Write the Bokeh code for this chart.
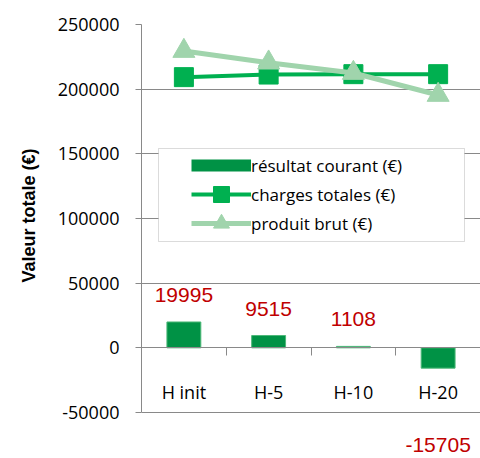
from bokeh.plotting import figure
from bokeh.models import (Range1d, LinearAxis, FixedTicker, BasicTickFormatter, Legend,
                          LegendItem, LabelSet, ColumnDataSource, BoxAnnotation, Grid, Title)
from bokeh.embed import file_html
from bokeh.resources import INLINE
from bokeh.core.properties import value

categories = ["H init", "H-5", "H-10", "H-20"]
resultat_courant = [19995, 9515, 1108, -15705]
charges_totales = [209300, 211300, 211600, 211600]
produit_brut = [229500, 220500, 212500, 195500]
y_ticks = [-50000, 0, 50000, 100000, 150000, 200000, 250000]
series_names = ["résultat courant (€)", "charges totales (€)", "produit brut (€)"]
y_title = "Valeur totale (€)"

BAR = "#009245"
CHG = "#00B050"
PRD = "#A0D4AC"
GRAY = "#898989"

W, H = 480, 458
TOP, AXIS_BOTTOM = 24, 412          # pixel rows of the 250000 and -50000 gridlines
px_per_unit = (AXIS_BOTTOM - TOP) / (y_ticks[-1] - y_ticks[0])
y_start = y_ticks[0] - (H - AXIS_BOTTOM) / px_per_unit   # room below for the data labels

xs = [i + 0.5 for i in range(len(categories))]
bounds = list(range(1, len(categories)))

p = figure(width=W, height=H, x_range=Range1d(0, len(categories)),
           y_range=Range1d(y_start, y_ticks[-1]),
           output_backend="svg", toolbar_location=None, x_axis_type=None, y_axis_type=None,
           min_border_left=141, min_border_right=0, min_border_top=TOP, min_border_bottom=0)
p.outline_line_color = None
p.background_fill_color = "white"

ygrid = Grid(dimension=1, ticker=FixedTicker(ticks=y_ticks), grid_line_color=GRAY, grid_line_width=1)
p.add_layout(ygrid)

yaxis = LinearAxis(ticker=FixedTicker(ticks=y_ticks), formatter=BasicTickFormatter(use_scientific=False),
                   major_label_overrides={t: str(t) for t in y_ticks},
                   bounds=(y_ticks[0], y_ticks[-1]),
                   major_label_text_font="Open Sans", major_label_text_font_size="18px",
                   major_label_text_color="black", major_label_standoff=16,
                   major_tick_out=6, major_tick_in=0, minor_tick_line_color=None,
                   axis_line_color=GRAY, major_tick_line_color=GRAY)
p.add_layout(yaxis, "left")

ytitle = Title(text=y_title, text_font="Liberation Sans", text_font_style="bold",
               text_font_size="18px", text_color="black", align="left", offset=176, standoff=31)
p.add_layout(ytitle, "left")

xaxis = LinearAxis(ticker=FixedTicker(ticks=xs, minor_ticks=bounds),
                   major_label_overrides={x: c for x, c in zip(xs, categories)},
                   fixed_location=0, major_tick_line_color=None,
                   minor_tick_line_color=GRAY, minor_tick_out=8, minor_tick_in=0,
                   axis_line_color=GRAY, major_label_standoff=24,
                   major_label_text_font="Open Sans", major_label_text_font_size="18px",
                   major_label_text_color="black")
p.add_layout(xaxis, "below")

bars = p.vbar(x=xs, top=resultat_courant, bottom=0, width=0.4, fill_color=BAR,
              line_color="#4DB878", line_width=1)
bar_key = p.line(xs, resultat_courant, line_color=BAR, line_width=12, visible=False)

lc = p.line(xs, charges_totales, line_color=CHG, line_width=4)
sc = p.scatter(xs, charges_totales, marker="square", size=19, color=CHG)
lp = p.line(xs, produit_brut, line_color=PRD, line_width=5)
sp = p.scatter(xs, produit_brut, marker="triangle", size=22, color=PRD)

src = ColumnDataSource(dict(x=xs, y=resultat_courant, text=[str(v) for v in resultat_courant],
                            dy=[27 if v >= 0 else -77 for v in resultat_courant]))
labels = LabelSet(x="x", y="y", text="text", y_offset="dy", source=src,
                  text_align="center", text_baseline="middle", text_color="#C00000",
                  text_font=value("Liberation Sans"), text_font_size="21px")
p.add_layout(labels)

# legend frame (frame-relative screen units, y measured up from frame bottom)
frame_box = BoxAnnotation(left=17, right=323, bottom=H - 241, top=H - 148,
                          left_units="screen", right_units="screen",
                          top_units="screen", bottom_units="screen",
                          fill_color="white", fill_alpha=1, line_color=GRAY, line_width=1)
p.add_layout(frame_box)

entries = [[bar_key], [lc, sc], [lp, sp]]
row_center0, row_step = 165, 29
for i, (name, rends) in enumerate(zip(series_names, entries)):
    lg = Legend(items=[LegendItem(label=name, renderers=rends)],
                location=(50, H - (row_center0 + i * row_step + 20)),
                glyph_width=60, glyph_height=40, spacing=0,
                padding=0, margin=0, label_standoff=0, label_text_font="Open Sans",
                label_text_font_size="17px", label_text_color="black",
                border_line_color=None, background_fill_alpha=0)
    p.add_layout(lg, "center")

open("out.html", "w").write(file_html(p, INLINE))
